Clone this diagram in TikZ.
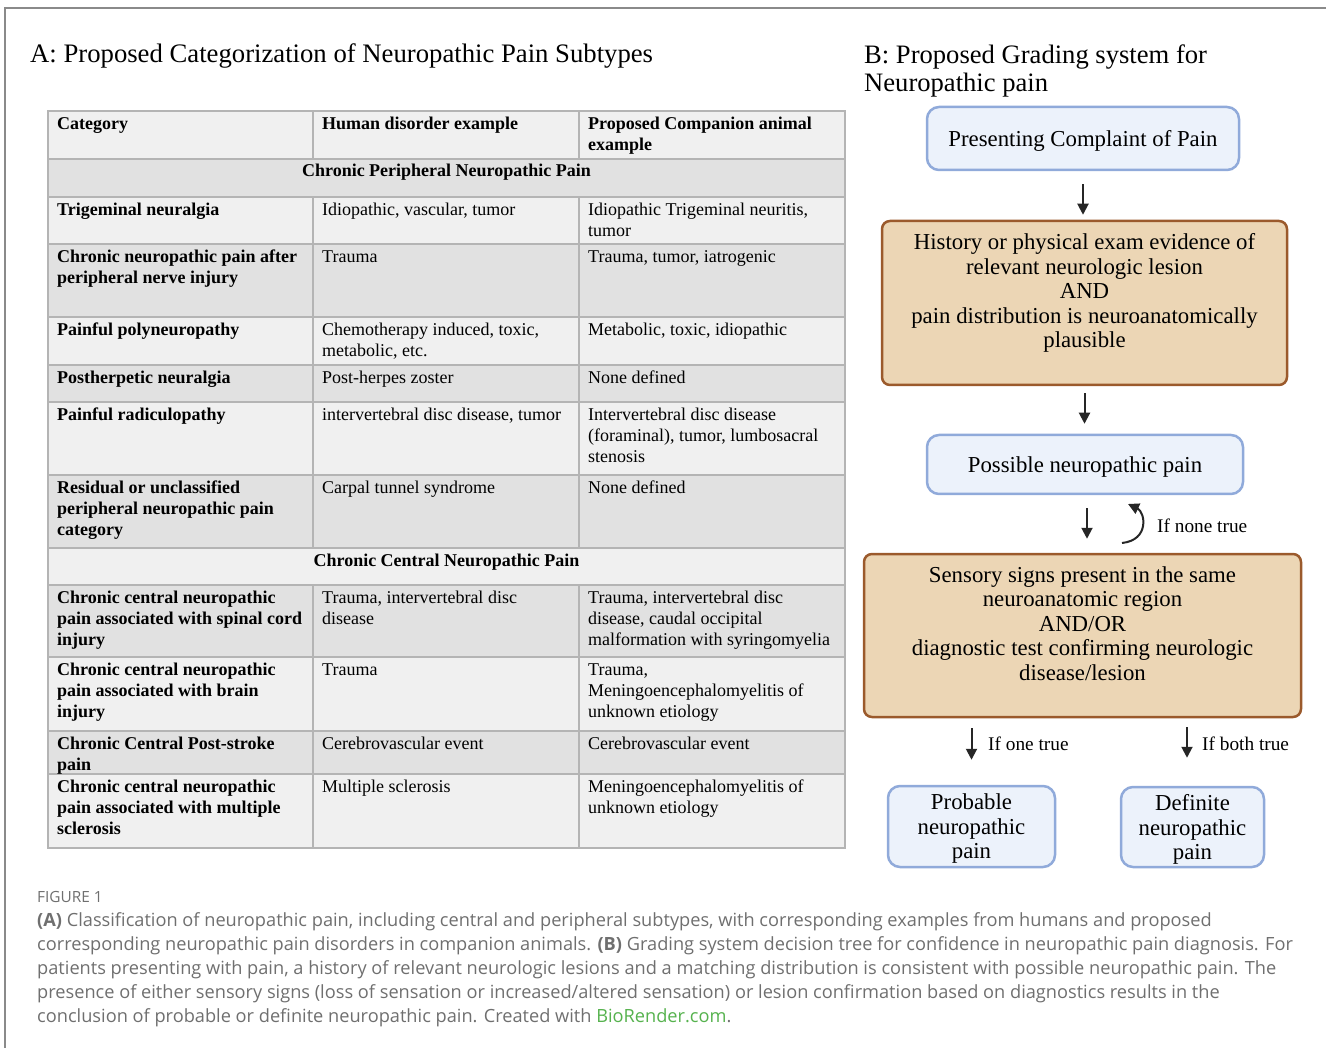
\documentclass[tikz,border=0pt]{standalone}
\usepackage{fontspec}
\setmainfont{Liberation Serif}
\newfontfamily\capfont{Open Sans}
\usetikzlibrary{arrows.meta}
\definecolor{rowlight}{HTML}{F0F0F0}
\definecolor{rowdark}{HTML}{E1E1E1}
\definecolor{linegray}{HTML}{B4B4B4}
\definecolor{framegray}{HTML}{8A8A8A}
\definecolor{bluefill}{HTML}{ECF2FB}
\definecolor{blueline}{HTML}{90AADA}
\definecolor{tanfill}{HTML}{ECD6B5}
\definecolor{tanline}{HTML}{9B5A2C}
\definecolor{capgray}{HTML}{6F6F6F}
\definecolor{biogreen}{HTML}{56B24E}
\tikzset{
    celltext/.style={anchor=north west, inner sep=0pt, align=left, font=\fontsize{18}{21}\selectfont},
    cellhead/.style={celltext, font=\fontsize{18}{21}\selectfont\bfseries},
    sectext/.style={anchor=base, inner sep=0pt, font=\fontsize{18}{21}\selectfont\bfseries},
    tabline/.style={draw=linegray, line width=1.5pt},
    bluebox/.style={draw=blueline, fill=bluefill, line width=2.5pt, rounded corners=12pt, inner sep=0pt, text depth=0pt, align=center, font=\fontsize{22.8}{24.5}\selectfont},
    tanbox/.style={draw=tanline, fill=tanfill, line width=2.5pt, rounded corners=8pt, inner sep=0pt, align=center, font=\fontsize{22.8}{24.5}\selectfont},
    flow/.style={draw=black!85, line width=2pt, -{Triangle[width=11pt,length=11pt]}},
    iflabel/.style={anchor=west, inner sep=0pt, font=\fontsize{19.3}{21}\selectfont},
  }
% one table cell: style, name, x, y of its top
\newcommand{\tabcell}[5]{\node[#1] (#2) at (#3,#4) {\strut#5};}

\begin{document}
\begin{tikzpicture}[x=1pt, y=-1pt]
  \useasboundingbox (0,0) rectangle (1326,1048);
  %frame
  \draw[framegray, line width=2pt] (1326,8) -- (5,8) -- (5,1048);

  \node[anchor=base west, inner sep=0pt, font=\fontsize{26.7}{28}\selectfont] (titleA) at (30,63) {A: Proposed Categorization of Neuropathic Pain Subtypes};
  \node[anchor=north west, inner sep=0pt, align=left, font=\fontsize{26.6}{28}\selectfont] (titleB) at (864,43.4) {\strut B: Proposed Grading system for\\Neuropathic pain};

  %table rows
  \foreach \ya/\yb/\shade in {111/159/rowlight, 159/197/rowdark, 197/244/rowlight, 244/317/rowdark, 317/365/rowlight, 365/402/rowdark, 402/475/rowlight, 475/548/rowdark, 548/585/rowlight, 585/657/rowdark, 657/731/rowlight, 731/774/rowdark, 774/848/rowlight}
    \fill[\shade] (48,\ya) rectangle (845,\yb);
  \foreach \y in {159,197,244,317,365,402,475,548,585,657,731,774}
    \draw[tabline] (48,\y) -- (845,\y);
  \foreach \x in {313,579}
    \draw[tabline] (\x,111) -- (\x,159) (\x,197) -- (\x,548) (\x,585) -- (\x,848);
  \draw[tabline] (48,111) rectangle (845,848);

  \tabcell{cellhead}{h1}{57}{114.3}{Category}
  \tabcell{cellhead}{h2}{322}{114.3}{Human disorder example}
  \tabcell{cellhead}{h3}{588}{114.3}{Proposed Companion animal\\example}
  \node[sectext] (sec1) at (446.5,177) {Chronic Peripheral Neuropathic Pain};

  \tabcell{cellhead}{r1a}{57}{200.3}{Trigeminal neuralgia}
  \tabcell{celltext}{r1b}{322}{200.3}{Idiopathic, vascular, tumor}
  \tabcell{celltext}{r1c}{588}{200.3}{Idiopathic Trigeminal neuritis,\\tumor}

  \tabcell{cellhead}{r2a}{57}{247.3}{Chronic neuropathic pain after\\peripheral nerve injury}
  \tabcell{celltext}{r2b}{322}{247.3}{Trauma}
  \tabcell{celltext}{r2c}{588}{247.3}{Trauma, tumor, iatrogenic}

  \tabcell{cellhead}{r3a}{57}{320.3}{Painful polyneuropathy}
  \tabcell{celltext}{r3b}{322}{320.3}{Chemotherapy induced, toxic,\\metabolic, etc.}
  \tabcell{celltext}{r3c}{588}{320.3}{Metabolic, toxic, idiopathic}

  \tabcell{cellhead}{r4a}{57}{368.3}{Postherpetic neuralgia}
  \tabcell{celltext}{r4b}{322}{368.3}{Post-herpes zoster}
  \tabcell{celltext}{r4c}{588}{368.3}{None defined}

  \tabcell{cellhead}{r5a}{57}{405.3}{Painful radiculopathy}
  \tabcell{celltext}{r5b}{322}{405.3}{intervertebral disc disease, tumor}
  \tabcell{celltext}{r5c}{588}{405.3}{Intervertebral disc disease\\(foraminal), tumor, lumbosacral\\stenosis}

  \tabcell{cellhead}{r6a}{57}{478.3}{Residual or unclassified\\peripheral neuropathic pain\\category}
  \tabcell{celltext}{r6b}{322}{478.3}{Carpal tunnel syndrome}
  \tabcell{celltext}{r6c}{588}{478.3}{None defined}

  \node[sectext] (sec2) at (446.5,566) {Chronic Central Neuropathic Pain};

  \tabcell{cellhead}{r7a}{57}{588.3}{Chronic central neuropathic\\pain associated with spinal cord\\injury}
  \tabcell{celltext}{r7b}{322}{588.3}{Trauma, intervertebral disc\\disease}
  \tabcell{celltext}{r7c}{588}{588.3}{Trauma, intervertebral disc\\disease, caudal occipital\\malformation with syringomyelia}

  \tabcell{cellhead}{r8a}{57}{660.3}{Chronic central neuropathic\\pain associated with brain\\injury}
  \tabcell{celltext}{r8b}{322}{660.3}{Trauma}
  \tabcell{celltext}{r8c}{588}{660.3}{Trauma,\\Meningoencephalomyelitis of\\unknown etiology}

  \tabcell{cellhead}{r9a}{57}{734.3}{Chronic Central Post-stroke\\pain}
  \tabcell{celltext}{r9b}{322}{734.3}{Cerebrovascular event}
  \tabcell{celltext}{r9c}{588}{734.3}{Cerebrovascular event}

  \tabcell{cellhead}{r10a}{57}{777.3}{Chronic central neuropathic\\pain associated with multiple\\sclerosis}
  \tabcell{celltext}{r10b}{322}{777.3}{Multiple sclerosis}
  \tabcell{celltext}{r10c}{588}{777.3}{Meningoencephalomyelitis of\\unknown etiology}

  %grading tree
  \node[bluebox, minimum width=312pt, minimum height=63pt] (pres) at (1083,138.5) {Presenting Complaint of Pain};
  \node[tanbox, minimum width=405pt, minimum height=164pt] (hist) at (1084.5,303) {History or physical exam evidence of\\relevant neurologic lesion\\AND\\pain distribution is neuroanatomically\\plausible\\\mbox{}};
  \node[bluebox, minimum width=316pt, minimum height=59pt] (poss) at (1085,464.5) {Possible neuropathic pain};
  \node[tanbox, minimum width=437pt, minimum height=163pt] (sens) at (1082.5,635.5) {Sensory signs present in the same\\neuroanatomic region\\AND/OR\\diagnostic test confirming neurologic\\disease/lesion\\\mbox{}};
  \node[bluebox, minimum width=167pt, minimum height=81pt] (prob) at (971.5,826.5) {Probable\\neuropathic\\pain};
  \node[bluebox, minimum width=143pt, minimum height=80pt] (defi) at (1192.5,827) {Definite\\neuropathic\\pain};

  \draw[flow, shorten <=13pt, shorten >=5pt] (pres.south) -- (pres.south |- hist.north);
  \draw[flow, shorten <=7pt, shorten >=10pt] (hist.south) -- (hist.south |- poss.north);
  \coordinate (posbot) at ([xshift=2pt]poss.south);
  \draw[flow, shorten <=13pt, shorten >=14pt] (posbot) -- (posbot |- sens.north);

  \coordinate (loopstart) at (1122,543);
  \coordinate (loopend) at (1128,504);
  \draw[flow] (loopstart) .. controls (1150,540) and (1145,512) .. (loopend);
  \node[iflabel] (nonelbl) at (1157,526) {If none true};

  \draw[flow, shorten <=10pt, shorten >=25pt] (prob.north |- sens.south) -- (prob.north);
  \node[iflabel] (onelbl) at (988,744) {If one true};
  \coordinate (defitop) at ([xshift=-5.5pt]defi.north);
  \draw[flow, shorten <=9pt, shorten >=28pt] (defitop |- sens.south) -- (defitop);
  \node[iflabel] (bothlbl) at (1202,744) {If both true};

  %caption
  \node[anchor=base west, inner sep=0pt, font=\capfont\fontsize{15.4}{16}\selectfont, text=capgray] (figlbl) at (37,902.5) {FIGURE 1};
  \node[anchor=north west, inner sep=0pt, align=left, font=\capfont\fontsize{18.2}{24}\selectfont, text=capgray] (caption) at (37,909.2) {\strut\textbf{(A)} Classification of neuropathic pain, including central and peripheral subtypes, with corresponding examples from humans and proposed\\corresponding neuropathic pain disorders in companion animals. \textbf{(B)} Grading system decision tree for confidence in neuropathic pain diagnosis. For\\patients presenting with pain, a history of relevant neurologic lesions and a matching distribution is consistent with possible neuropathic pain. The\\presence of either sensory signs (loss of sensation or increased/altered sensation) or lesion confirmation based on diagnostics results in the\\conclusion of probable or definite neuropathic pain. Created with \textcolor{biogreen}{BioRender.com}.};
\end{tikzpicture}
\end{document}
